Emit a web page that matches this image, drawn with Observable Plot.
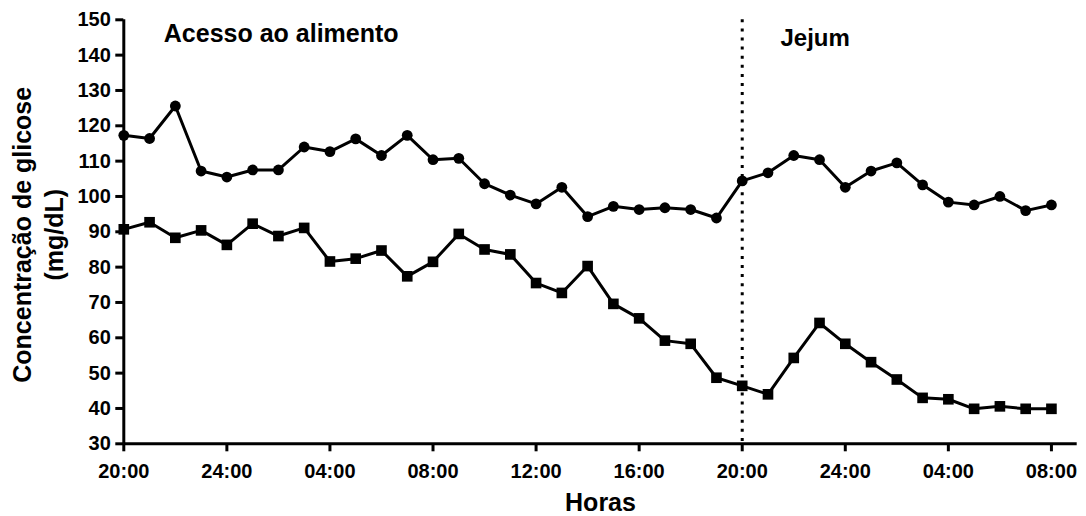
<!DOCTYPE html>
<html>
<head>
<meta charset="utf-8">
<script src="https://cdn.jsdelivr.net/npm/d3@7"></script>
<script src="https://cdn.jsdelivr.net/npm/@observablehq/plot@0.6"></script>
<style>
  html, body { margin: 0; padding: 0; background: #fff; }
  #chart { width: 1086px; height: 516px; }
</style>
</head>
<body>
<div id="chart"></div>
<script>
// Hours elapsed since 20:00 of the first day
const hours = [0,1,2,3,4,5,6,7,8,9,10,11,12,13,14,15,16,17,18,19,20,21,22,23,24,25,26,27,28,29,30,31,32,33,34,35,36];
// Series drawn with circles (upper)
const seriesCircle = [117.3,116.4,125.6,107.2,105.5,107.5,107.5,114.0,112.7,116.3,111.6,117.3,110.4,110.8,103.6,100.4,97.9,102.6,94.3,97.2,96.3,96.8,96.3,93.9,104.4,106.7,111.6,110.4,102.6,107.2,109.5,103.3,98.4,97.6,100.0,96.0,97.6];
// Series drawn with squares (lower)
const seriesSquare = [90.7,92.7,88.3,90.4,86.3,92.3,88.8,91.1,81.6,82.4,84.7,77.4,81.5,89.4,85.0,83.6,75.5,72.7,80.3,69.6,65.5,59.2,58.3,48.7,46.4,44.0,54.3,64.2,58.3,53.1,48.2,43.0,42.6,39.9,40.6,39.9,39.9];

const xTicks = [0,4,8,12,16,20,24,28,32,36];
const xTickLabels = ["20:00","24:00","04:00","08:00","12:00","16:00","20:00","24:00","04:00","08:00"];
const yTicks = [30,40,50,60,70,80,90,100,110,120,130,140,150];
const fastingStart = [24];
const phaseLabels = ["Acesso ao alimento", "Jejum"];
const xTitle = "Horas";
const yTitle = "Concentração de glicose\n(mg/dL)";

const circleData = hours.map((h, i) => ({h, v: seriesCircle[i]}));
const squareData = hours.map((h, i) => ({h, v: seriesSquare[i]}));

const font = "Liberation Sans, Arial, Helvetica, sans-serif";

const chart = Plot.plot({
  width: 1086,
  height: 516,
  marginLeft: 123.3,
  marginRight: 9.3,
  marginTop: 19.3,
  marginBottom: 72.7,
  style: {fontFamily: font, fontSize: "20px", fontWeight: "bold", color: "#000", background: "#fff"},
  x: {domain: [0, 37]},
  y: {domain: [30, 150]},
  marks: [
    Plot.ruleX(fastingStart, {y1: 150, y2: 30, stroke: "#000", strokeWidth: 3, strokeDasharray: "3,6.1"}),
    Plot.axisY({ticks: yTicks, tickSize: 8, tickPadding: 5, strokeWidth: 3, label: null, fill: "#000", stroke: "#000",
      fontSize: 20, fontWeight: "bold"}),
    Plot.axisX({ticks: xTicks, tickSize: 8, tickPadding: 12, strokeWidth: 3, label: null,
      tickFormat: d => xTickLabels[xTicks.indexOf(d)], fill: "#000", stroke: "#000", fontSize: 20, fontWeight: "bold"}),
    Plot.ruleX([0], {y1: 30, y2: 150, stroke: "#000", strokeWidth: 3}),
    Plot.ruleY([30], {x1: 0, x2: 37, stroke: "#000", strokeWidth: 3}),
    Plot.line(circleData, {x: "h", y: "v", stroke: "#000", strokeWidth: 3}),
    Plot.dot(circleData, {x: "h", y: "v", r: 5.4, fill: "#000", stroke: null, symbol: "circle"}),
    Plot.line(squareData, {x: "h", y: "v", stroke: "#000", strokeWidth: 3}),
    Plot.dot(squareData, {x: "h", y: "v", r: 6, fill: "#000", stroke: null, symbol: "square"}),
    Plot.text([phaseLabels[0]], {frameAnchor: "top-left", textAnchor: "start", lineAnchor: "top", dx: 40, dy: 4.7, fontSize: 25, fontWeight: "bold", fill: "#000"}),
    Plot.text([phaseLabels[1]], {frameAnchor: "top-left", textAnchor: "start", lineAnchor: "top", dx: 656.7, dy: 9, fontSize: 24, fontWeight: "bold", fill: "#000"}),
    Plot.text([xTitle], {frameAnchor: "bottom", textAnchor: "middle", lineAnchor: "middle", dy: 59, fontSize: 25, fontWeight: "bold", fill: "#000"}),
    Plot.text([yTitle], {frameAnchor: "left", textAnchor: "middle", lineAnchor: "middle", rotate: -90, dx: -87.3, dy: 3, lineHeight: 1.28, fontSize: 25, fontWeight: "bold", fill: "#000"})
  ]
});
document.getElementById("chart").appendChild(chart);
</script>
</body>
</html>
